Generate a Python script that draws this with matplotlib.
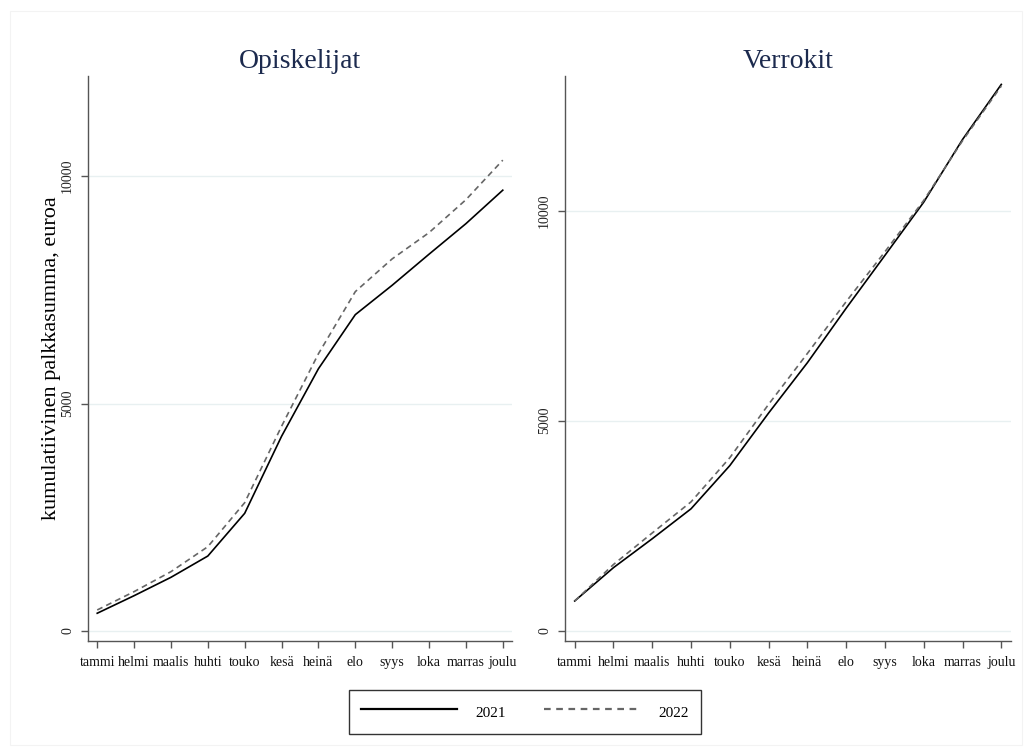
import matplotlib.pyplot as plt
from matplotlib.lines import Line2D
from matplotlib.patches import Rectangle

plt.rcParams['font.family'] = ['Liberation Serif', 'DejaVu Serif']

months = ['tammi', 'helmi', 'maalis', 'huhti', 'touko', 'kesä',
          'heinä', 'elo', 'syys', 'loka', 'marras', 'joulu']

# Opiskelijat
opisk_2021 = [390, 776, 1180, 1648, 2587, 4280, 5765, 6954, 7600, 8283, 8954, 9690]
opisk_2022 = [462, 865, 1304, 1853, 2821, 4500, 6094, 7460, 8180, 8757, 9480, 10350]

# Verrokit
verr_2021 = [712, 1505, 2193, 2905, 3933, 5183, 6380, 7676, 8934, 10200, 11690, 13000]
verr_2022 = [712, 1580, 2330, 3070, 4120, 5390, 6600, 7833, 9020, 10240, 11660, 12960]

titles = ['Opiskelijat', 'Verrokit']
ylabel = 'kumulatiivinen palkkasumma, euroa'

title_color = '#1c2a4e'
grid_color = '#e8f0f1'
axis_color = '#555555'

fig = plt.figure(figsize=(10.32, 7.54), dpi=100)
W, H = 1032, 754

# faint outer frame
fig.patches.append(Rectangle((10 / W, 1 - 745 / H), 1012 / W, 734 / H,
                             transform=fig.transFigure, fill=False,
                             edgecolor='#f3f3f3', linewidth=0.8))

ax1 = fig.add_axes([88 / W, 1 - 641 / H, 424 / W, 565 / H])
ax2 = fig.add_axes([565 / W, 1 - 641 / H, 446 / W, 565 / H])

panels = [
    (ax1, opisk_2021, opisk_2022, (-220, 12200)),
    (ax2, verr_2021, verr_2022, (-240, 13200)),
]

x = list(range(len(months)))

for (ax, y21, y22, ylim), title in zip(panels, titles):
    ax.plot(x, y21, color='black', linewidth=1.2)
    ax.plot(x, y22, color='#666666', linewidth=1.2, linestyle=(0, (3.5, 2.5)))
    ax.set_xlim(-0.25, 11.25)
    ax.set_ylim(*ylim)
    ax.set_yticks([0, 5000, 10000])
    ax.set_yticklabels(['0', '5000', '10000'], rotation=90, va='center',
                       fontsize=10, color='#222222')
    ax.set_xticks(x)
    ax.set_xticklabels(months, fontsize=10, color='#111111')
    ax.grid(axis='y', color=grid_color, linewidth=1)
    ax.set_axisbelow(True)
    for side in ['top', 'right']:
        ax.spines[side].set_visible(False)
    for side in ['left', 'bottom']:
        ax.spines[side].set_color(axis_color)
        ax.spines[side].set_linewidth(1.0)
    ax.tick_params(axis='both', length=5, color=axis_color, width=1)
    ax.tick_params(axis='y', pad=5)
    ax.tick_params(axis='x', pad=6)
    ax.set_title(title, fontsize=20, color=title_color, pad=6)

ax1.set_ylabel(ylabel, fontsize=16, color='black')
ax1.yaxis.set_label_coords(-0.063, 0.5)

handles = [
    Line2D([], [], color='black', linewidth=1.6),
    Line2D([], [], color='#666666', linewidth=1.6, linestyle=(0, (3, 2.5))),
]
leg = fig.legend(handles, ['2021', '2022'], loc='center',
                 bbox_to_anchor=(525 / W, 1 - 712 / H), ncol=2,
                 fontsize=11, handlelength=6.3, handletextpad=1.2,
                 columnspacing=2.45, frameon=True, fancybox=False,
                 borderpad=0.8, handleheight=1.65, borderaxespad=0)
leg.get_frame().set_edgecolor('black')
leg.get_frame().set_linewidth(1.0)

fig.savefig('out.png', dpi=100)
